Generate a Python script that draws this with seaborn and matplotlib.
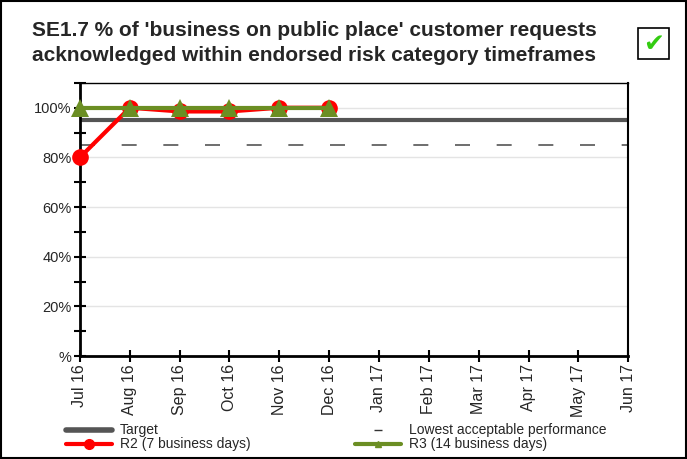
import pandas as pd
import matplotlib.pyplot as plt
import seaborn as sns
from matplotlib.lines import Line2D
from matplotlib.patches import Rectangle

# Chart data
months = ['Jul 16', 'Aug 16', 'Sep 16', 'Oct 16', 'Nov 16', 'Dec 16',
          'Jan 17', 'Feb 17', 'Mar 17', 'Apr 17', 'May 17', 'Jun 17']
r2_values = [80, 100, 98.5, 98.5, 100, 100]
r3_values = [100, 100, 100, 100, 100, 100]
target = 95
lowest_acceptable = 85

sns.set_style('white')
plt.rcParams['font.family'] = ['Liberation Sans', 'DejaVu Sans']
plt.rcParams['xtick.bottom'] = True
plt.rcParams['ytick.left'] = True

fig = plt.figure(figsize=(6.87, 4.59), dpi=100)
ax = fig.add_axes([0.1164, 0.2244, 0.798, 0.595])

# grid
for g in [20, 40, 60, 80, 100]:
    ax.axhline(g, color='#e4e4e4', lw=1, zorder=0)

ax.axhline(target, color='#555555', lw=3, zorder=1)
ax.axhline(lowest_acceptable, color='#555555', lw=1.2, ls=(0, (9, 16)), zorder=1)

df2 = pd.DataFrame({'x': range(len(r2_values)), 'y': r2_values})
df3 = pd.DataFrame({'x': range(len(r3_values)), 'y': r3_values})
sns.lineplot(data=df2, x='x', y='y', ax=ax, color='#ff0000', lw=3,
             marker='o', markersize=12, markeredgewidth=0, zorder=3, clip_on=False)
sns.lineplot(data=df3, x='x', y='y', ax=ax, color='#6b8e23', lw=3,
             marker='^', markersize=13, markeredgewidth=0, zorder=4, clip_on=False)

ax.set_xlim(0, len(months) - 1)
ax.set_ylim(0, 110)
ax.set_xticks(range(len(months)))
ax.set_xticklabels(months, rotation=90, fontsize=11.5)
ax.set_yticks(range(0, 111, 10))
ax.set_yticklabels(['%' if v == 0 else (f'{v}%' if v % 20 == 0 else '') for v in range(0, 111, 10)],
                   fontsize=10.5)
ax.tick_params(axis='both', direction='inout', length=8, width=1.5, color='black', pad=2)
ax.set_xlabel('')
ax.set_ylabel('')
for s in ax.spines.values():
    s.set_color('black')
ax.spines['left'].set_linewidth(2)
ax.spines['bottom'].set_linewidth(2)
ax.spines['top'].set_linewidth(1)
ax.spines['right'].set_linewidth(1.5)

# title
fig.text(0.457, 0.906, "SE1.7 % of 'business on public place' customer requests\nacknowledged within endorsed risk category timeframes",
         ha='center', va='center', fontsize=15, fontweight='bold', linespacing=1.4)

# checkbox
fig.patches.append(Rectangle((0.9285, 0.872), 0.046, 0.068, transform=fig.transFigure,
                             fill=True, facecolor='white', edgecolor='black', lw=1.2))
fig.text(0.9515, 0.905, '\u2714', ha='center', va='center', fontsize=18, color='#33cc11',
         family=['DejaVu Sans'])

# legend
handles = [
    Line2D([], [], color='#555555', lw=4),
    Line2D([], [], color='#ff0000', lw=3, marker='o', markersize=7),
    Line2D([], [], color='none', marker='_', markeredgecolor='#333333', markersize=6),
    Line2D([], [], color='#6b8e23', lw=3, marker='^', markersize=5),
]
labels = ['Target', 'R2 (7 business days)', 'Lowest acceptable performance', 'R3 (14 business days)']
fig.legend(handles, labels, loc='lower left', bbox_to_anchor=(0.085, 0.0), ncol=2,
           frameon=False, fontsize=10, handlelength=3.3, columnspacing=7.5,
           labelspacing=0.0, handletextpad=0.6, borderaxespad=0.15)

# outer border
fig.patches.append(Rectangle((0.0015, 0.0015), 0.997, 0.997, transform=fig.transFigure,
                             fill=False, edgecolor='black', lw=1.5))

fig.savefig('out.png', dpi=100)
